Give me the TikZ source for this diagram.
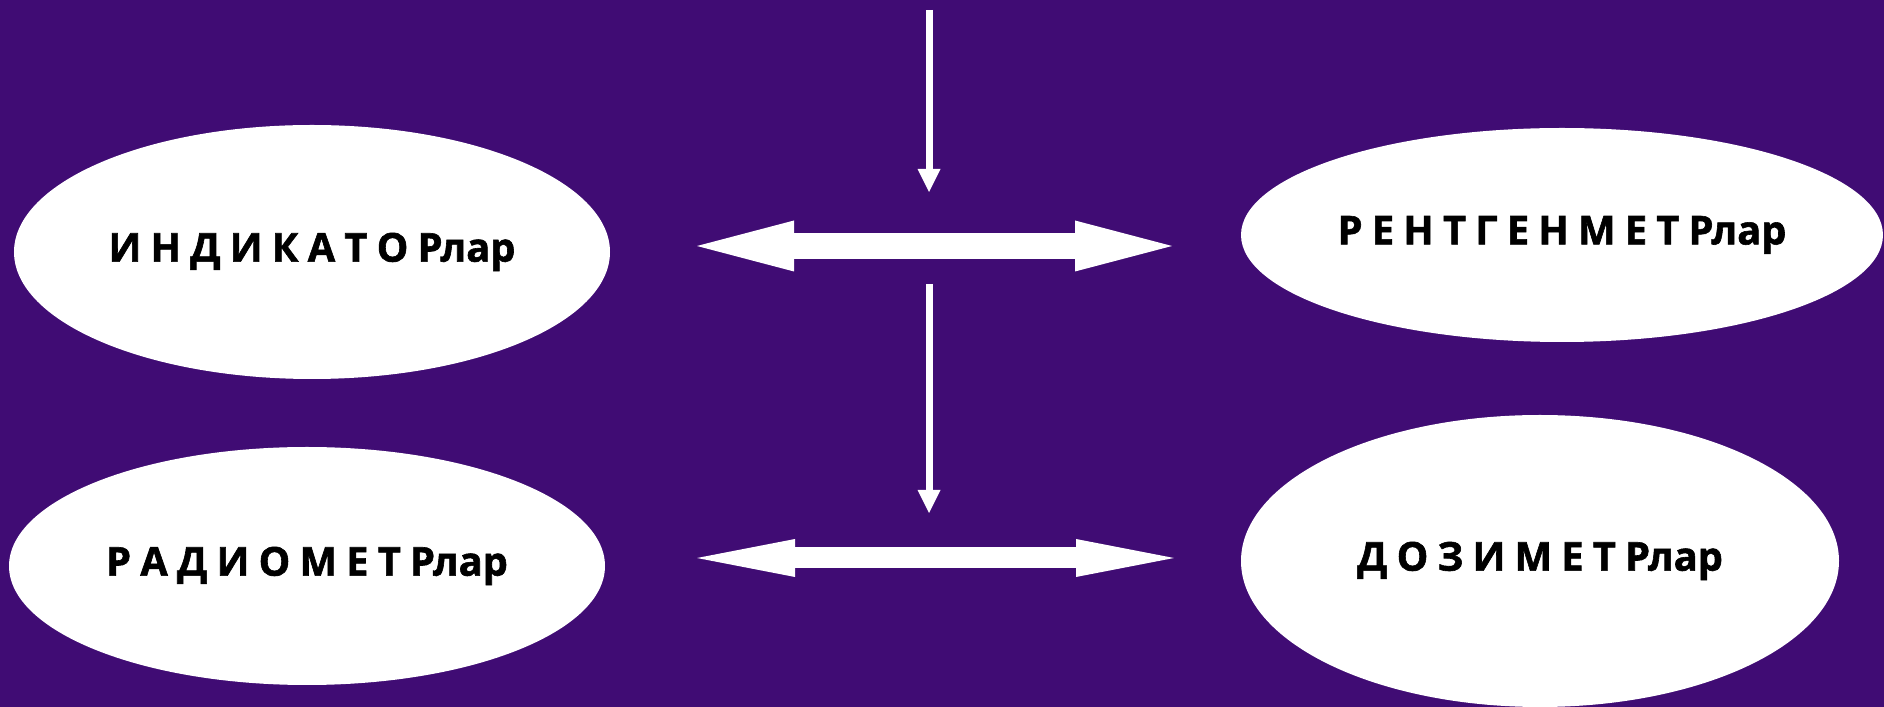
\documentclass[tikz,border=0pt]{standalone}
\usepackage{fontspec}
\newfontfamily\labelfont[FakeBold=1.5, WordSpace=0.9]{Open Sans}
\usepackage{xcolor}
\usepackage{tikz}
\usetikzlibrary{shapes.geometric,arrows.meta}

\definecolor{bgpurple}{RGB}{64,12,116}

\begin{document}
\begin{tikzpicture}[
    device/.style={ellipse, fill=white, inner sep=0pt,
                   font=\labelfont\bfseries\fontsize{11.3}{13}\selectfont, text=black},
    downarrow/.style={white, line width=0.7mm, -{Triangle[length=2.3mm, width=2.3mm, line width=0pt]}},
    widearrow/.style={white, line width=2.6mm,
                      {Triangle[length=9.7mm, width=5.1mm, line width=0pt]}-{Triangle[length=9.7mm, width=5.1mm, line width=0pt]}},
    slimarrow/.style={white, line width=2.1mm,
                      {Triangle[length=9.8mm, width=3.8mm, line width=0pt]}-{Triangle[length=9.8mm, width=3.8mm, line width=0pt]}}
  ]
    % background
    \fill[bgpurple] (0,0) rectangle (18.84,7.07);
    \useasboundingbox (0,0) rectangle (18.84,7.07);

    % devices
    \node[device, minimum width=59.6mm, minimum height=25.4mm] (ind) at (3.12, 4.55) {И Н Д И К А Т О Рлар};
    \node[device, minimum width=64.2mm, minimum height=21.4mm] (rent) at (15.62, 4.72) {Р Е Н Т Г Е Н М Е Т Рлар};
    \node[device, minimum width=59.6mm, minimum height=23.8mm] (rad) at (3.07, 1.41) {Р А Д И О М Е Т Рлар};
    \node[device, minimum width=59.8mm, minimum height=29.2mm] (doz) at (15.40, 1.46) {Д О З И М Е Т Рлар};

    % arrow ends
    \coordinate (top1) at (9.29, 6.97);
    \coordinate (tip1) at (9.29, 5.15);
    \coordinate (top2) at (9.29, 4.23);
    \coordinate (tip2) at (9.29, 1.94);
    \coordinate (l1) at (6.97, 4.61);
    \coordinate (r1) at (11.72, 4.61);
    \coordinate (l2) at (6.97, 1.49);
    \coordinate (r2) at (11.74, 1.49);

    \draw[downarrow] (top1) -- (tip1);
    \draw[downarrow] (top2) -- (tip2);
    \draw[widearrow] (l1) -- (r1);
    \draw[slimarrow] (l2) -- (r2);
  \end{tikzpicture}
\end{document}
